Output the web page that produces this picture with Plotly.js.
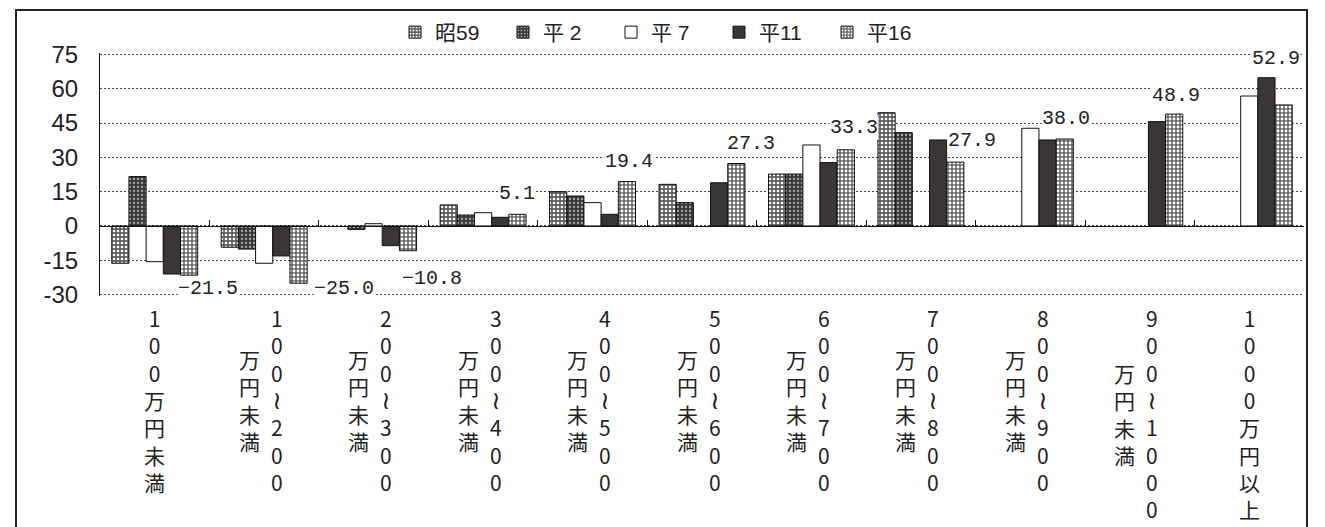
<!DOCTYPE html>
<html><head><meta charset="utf-8">
<script src="https://cdn.plot.ly/plotly-3.0.1.min.js"></script>
<style>html,body{margin:0;padding:0;background:#fff}</style>
</head><body>
<div id="chart" style="width:1325px;height:527px"></div>
<script>
// ---- data ----
const categories = ["100万円未満","100～200万円未満","200～300万円未満","300～400万円未満","400～500万円未満","500～600万円未満","600～700万円未満","700～800万円未満","800～900万円未満","900～1000万円未満","1000万円以上"];
const seriesNames = ["昭59","平 2","平 7","平11","平16"];
const valS59 = [-16.3, -9.3, null, 9.2, 15.0, 18.2, 22.7, 49.5, null, null, null];
const valH2  = [21.6, -10.1, -1.5, 4.8, 13.1, 10.2, 22.7, 40.8, null, null, null];
const valH7  = [-15.6, -16.3, 1.0, 5.8, 10.2, null, 35.4, null, 42.7, null, 56.8];
const valH11 = [-21.0, -13.1, -8.6, 3.8, 5.1, 18.9, 27.7, 37.6, 37.6, 45.6, 64.8];
const valH16 = [-21.5, -25.0, -10.8, 5.1, 19.4, 27.3, 33.3, 27.9, 38.0, 48.9, 52.9];
const yTicks = [-30, -15, 0, 15, 30, 45, 60, 75];

// ---- layout constants (positions / styles) ----
const W = 1325, H = 527;
const M = {l: 100, r: 21, t: 53, b: 231};
const BARGAP = 0.215;
const plotW = W - M.l - M.r, plotH = H - M.t - M.b;
const catW = plotW / categories.length;
const barW = catW * (1 - BARGAP) / seriesNames.length;
const lastBarShift = 2 * barW;
// label nudges in px relative to the 平16 bar end: [dx, dy]
const labelNudge = [[19,-13],[45,-5],[24,-28],[0,21],[2,20],[15,20],[8,22],[17,22],[1,21],[2,18.5],[-8,46]];

const fills = [
  {color:'#6a6a6a', pattern:{shape:'.', bgcolor:'#5e5e5e', fgcolor:'#ffffff', size:4, solidity:0.33, fillmode:'replace'}},
  {color:'#3c3c3c', pattern:{shape:'.', bgcolor:'#383838', fgcolor:'#a8a8a8', size:4, solidity:0.25, fillmode:'replace'}},
  {color:'#ffffff'},
  {color:'#3a3636'},
  {color:'#707070', pattern:{shape:'.', bgcolor:'#666666', fgcolor:'#ffffff', size:4, solidity:0.4, fillmode:'replace'}}
];
const seriesVals = [valS59, valH2, valH7, valH11, valH16];

const traces = seriesNames.map((nm, i) => ({
  type: 'bar', name: nm, x: categories, y: seriesVals[i],
  marker: Object.assign({line: {color: '#111', width: 1}}, fills[i]),
  hoverinfo: 'x+y+name'
}));

const annotations = [];
// data labels for 平16
valH16.forEach((v, i) => {
  annotations.push({
    x: categories[i], y: v, xref: 'x', yref: 'y',
    text: v.toFixed(1).replace('-', '−'), showarrow: false,
    xanchor: 'center', yanchor: 'middle',
    xshift: lastBarShift + labelNudge[i][0], yshift: labelNudge[i][1],
    bgcolor: '#ffffff', borderpad: 0,
    font: {family: 'Liberation Mono, DejaVu Sans Mono, monospace', size: 20, color: '#222'}
  });
});

// vertical category labels (stacked characters, wrapped into columns right-to-left)
const LBL_FS = 21, LINE = LBL_FS * 1.3;
const WAVE = "<span style='font-family:DejaVu Sans;font-size:25px'>≀</span>";
categories.forEach((c, i) => {
  let cols;
  const k = c.indexOf('万');
  if (c.indexOf('～') >= 0) {
    cols = [{t: c.slice(0, k), dx: 12.5}, {t: c.slice(k), dx: -15}];
  } else {
    cols = [{t: c, dx: 0}];
  }
  const n0 = Array.from(cols[0].t).length;
  cols.forEach(col => {
    const chars = Array.from(col.t).map(ch => ch === '～' ? WAVE : ch);
    const off = (n0 - chars.length) / 2 * LINE;
    annotations.push({
      x: c, xref: 'x', y: 0, yref: 'paper',
      text: chars.join('<br>'), showarrow: false,
      xanchor: 'center', yanchor: 'top', align: 'center',
      xshift: col.dx, yshift: -5 - off,
      font: {family: 'Noto Sans CJK JP, Noto Sans, sans-serif', size: LBL_FS, color: '#222'}
    });
  });
});

const yMin = yTicks[0], yMax = yTicks[yTicks.length - 1];
const EPS = 0.6;
const layout = {
  width: W, height: H,
  margin: M,
  paper_bgcolor: '#ffffff', plot_bgcolor: 'rgba(0,0,0,0)',
  barmode: 'group', bargap: BARGAP, bargroupgap: 0,
  showlegend: true,
  legend: {
    orientation: 'h', x: (395 - M.l) / plotW, xanchor: 'left',
    y: 1 + (M.t - 12) / plotH, yanchor: 'top',
    font: {family: 'Liberation Sans, Noto Sans CJK JP, sans-serif', size: 21, color: '#222'},
    entrywidth: 63, entrywidthmode: 'pixels', bgcolor: 'rgba(0,0,0,0)', traceorder: 'normal'
  },
  xaxis: {
    type: 'category', anchor: 'free', position: (0 - (yMin - EPS)) / (yMax - yMin + 2 * EPS),
    showticklabels: false, ticks: 'inside', tickson: 'boundaries', ticklen: 6, tickcolor: '#111', tickwidth: 1,
    showline: true, linecolor: '#111', linewidth: 1, showgrid: false, zeroline: false,
    range: [-0.5, categories.length - 0.5], fixedrange: true
  },
  yaxis: {
    range: [yMin - EPS, yMax + EPS], tickvals: yTicks, ticktext: yTicks.map(String),
    showline: true, linecolor: '#111', linewidth: 1,
    showgrid: true, gridcolor: '#444', gridwidth: 1, griddash: '2px,2px',
    zeroline: false, ticks: '', ticklabelstandoff: 16,
    tickfont: {family: 'Liberation Sans Narrow, Liberation Sans, sans-serif', size: 24, color: '#222'},
    fixedrange: true
  },
  annotations: annotations,
  shapes: [{
    type: 'rect', xref: 'paper', yref: 'paper',
    x0: (16 - M.l) / plotW, x1: (1307 - M.l) / plotW,
    y0: -1.2, y1: 1 + (M.t - 10) / plotH,
    line: {color: '#222', width: 2}, fillcolor: 'rgba(0,0,0,0)', layer: 'above'
  }]
};

Plotly.newPlot('chart', traces, layout, {displayModeBar: false, staticPlot: true});
</script>
</body></html>
